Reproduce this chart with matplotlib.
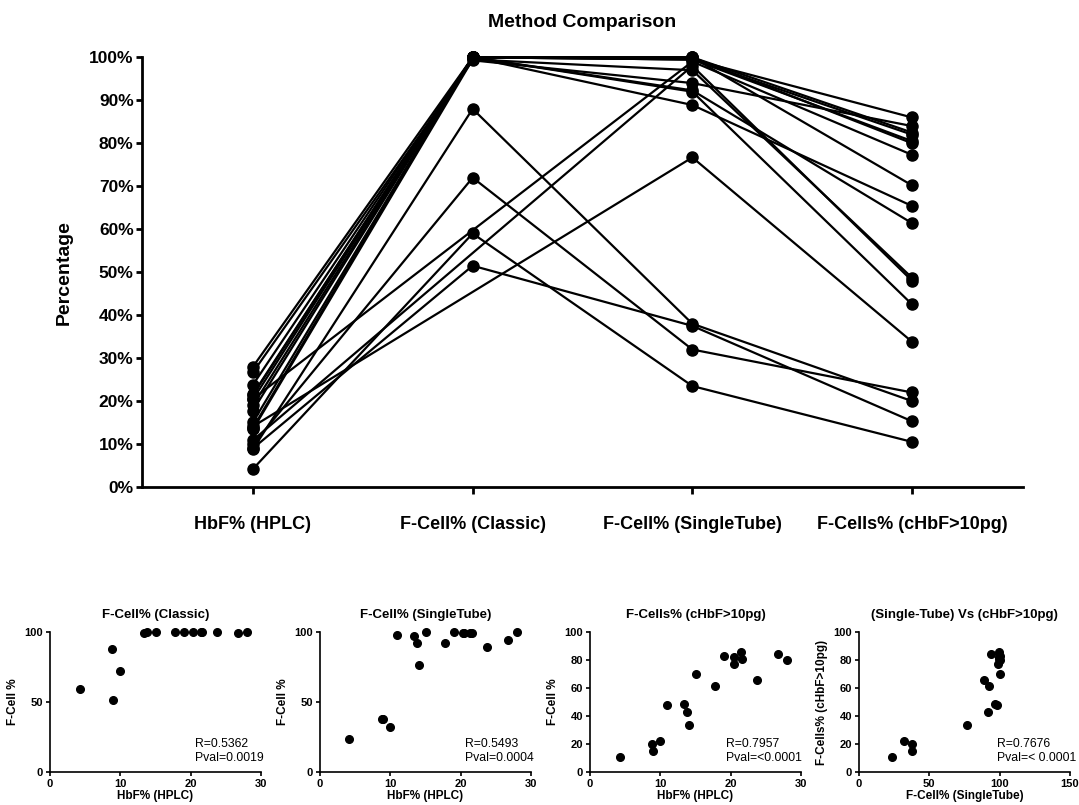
import numpy as np
import matplotlib
matplotlib.use("Agg")
import matplotlib.pyplot as plt

plt.rcParams['font.family'] = ['Liberation Sans', 'DejaVu Sans']
plt.rcParams['font.weight'] = 'bold'

# valores (um por paciente)
hbf = [4.2, 8.8, 9.0, 9.9, 10.9, 13.4, 13.8, 14.1, 15.1, 17.8, 19.0, 20.4, 20.5, 21.4, 21.6, 23.8, 26.7, 28.0]
classic = [59, 88, 51.5, 72, np.nan, 99.5, 100, np.nan, 100, 100, 100, 100, np.nan, 100, 100, 100, 99.3, 100]
single_tube = [23.5, 38, 37.5, 32, 98, 97, 92, 76.7, 100, 92.3, 100, 99.5, 99, 99.5, 99.5, 88.9, 94, 100]
chbf = [10.5, 20, 15.3, 22, 48, 48.7, 42.5, 33.8, 70.2, 61.4, 82.5, 82, 77.3, 86, 80.5, 65.4, 84, 80]

categories = ["HbF% (HPLC)", "F-Cell% (Classic)", "F-Cell% (SingleTube)", "F-Cells% (cHbF>10pg)"]
y_ticks_main = [0, 10, 20, 30, 40, 50, 60, 70, 80, 90, 100]

fig = plt.figure(figsize=(10.79, 8.05), dpi=100)

# gráfico principal
ax = fig.add_axes([0.1316, 0.395, 0.8165, 0.5338])
data = np.array([hbf, classic, single_tube, chbf]).T
for row in data:
    ok = ~np.isnan(row)  # valores ausentes: a linha liga direto ao próximo ponto
    xs = np.arange(4)[ok]
    ax.plot(xs, row[ok], color='black', lw=1.6, marker='o', markersize=8, clip_on=False, zorder=3)

ax.set_xlim(-0.505, 3.505)
ax.set_ylim(0, 100)
ax.set_xticks(range(4))
ax.set_xticklabels(categories, fontsize=13, fontweight='bold')
ax.set_yticks(y_ticks_main)
ax.set_yticklabels([f"{v}%" for v in y_ticks_main], fontsize=12.5, fontweight='bold')
ax.tick_params(axis='x', length=5, width=2, pad=16)
ax.tick_params(axis='y', length=4, width=2, pad=2)
for s in ['top', 'right']:
    ax.spines[s].set_visible(False)
for s in ['left', 'bottom']:
    ax.spines[s].set_linewidth(2)
ax.set_ylabel("Percentage", fontsize=14, fontweight='bold', labelpad=12)
ax.set_title("Method Comparison", fontsize=14, fontweight='bold', pad=22)

# gráficos de dispersão pequenos
def small_plot(left, x, y, title, xlabel, ylabel, xticks, yticks, stats, stats_x):
    a = fig.add_axes([left, 0.041, 0.1956, 0.174])
    x = np.array(x, dtype=float)
    y = np.array(y, dtype=float)
    ok = ~np.isnan(x) & ~np.isnan(y)
    a.plot(x[ok], y[ok], 'o', color='black', markersize=5.5, clip_on=False)
    a.set_xlim(xticks[0], xticks[-1])
    a.set_ylim(yticks[0], yticks[-1])
    a.set_xticks(xticks)
    a.set_yticks(yticks)
    a.tick_params(labelsize=8, length=3, width=1.2, pad=2)
    for lab in a.get_xticklabels() + a.get_yticklabels():
        lab.set_fontweight('bold')
    for s in ['top', 'right']:
        a.spines[s].set_visible(False)
    for s in ['left', 'bottom']:
        a.spines[s].set_linewidth(1.2)
    a.set_title(title, fontsize=9.5, fontweight='bold', pad=10)
    a.set_xlabel(xlabel, fontsize=8.5, fontweight='bold', labelpad=1)
    a.set_ylabel(ylabel, fontsize=8.5, fontweight='bold', labelpad=4)
    a.text(stats_x, 0.06, stats, transform=a.transAxes, fontsize=8.8,
           fontweight='normal', va='bottom', ha='left', linespacing=1.15)

small_plot(0.0463, hbf, classic, "F-Cell% (Classic)", "HbF% (HPLC)", "F-Cell %",
           [0, 10, 20, 30], [0, 50, 100], "R=0.5362\nPval=0.0019", 0.687)
small_plot(0.2965, hbf, single_tube, "F-Cell% (SingleTube)", "HbF% (HPLC)", "F-Cell %",
           [0, 10, 20, 30], [0, 50, 100], "R=0.5493\nPval=0.0004", 0.687)
small_plot(0.5468, hbf, chbf, "F-Cells% (cHbF>10pg)", "HbF% (HPLC)", "F-Cell %",
           [0, 10, 20, 30], [0, 20, 40, 60, 80, 100], "R=0.7957\nPval=<0.0001", 0.645)
small_plot(0.7961, single_tube, chbf, "(Single-Tube) Vs (cHbF>10pg)", "F-Cell% (SingleTube)",
           "F-Cells% (cHbF>10pg)", [0, 50, 100, 150], [0, 20, 40, 60, 80, 100],
           "R=0.7676\nPval=< 0.0001", 0.652)

fig.savefig("out.png", dpi=100)
